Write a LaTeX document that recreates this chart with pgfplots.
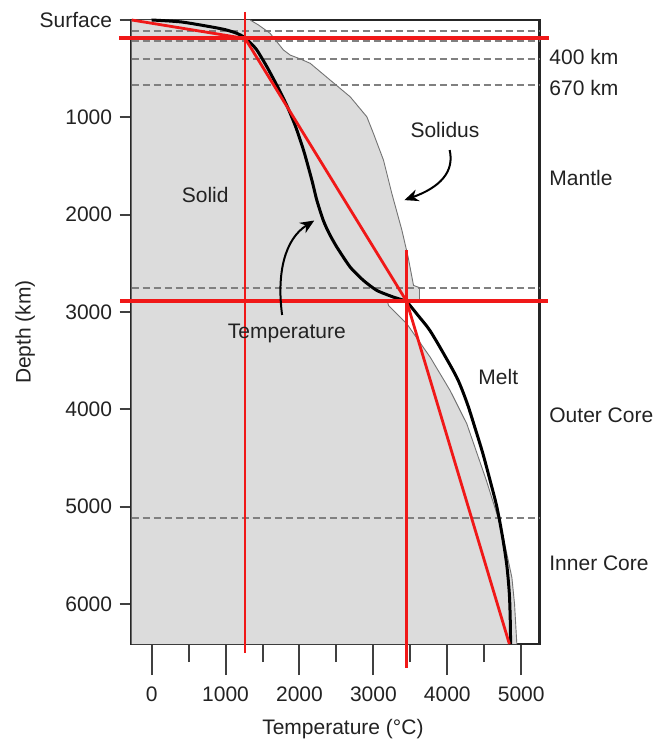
\documentclass[border=0pt]{standalone}
\usepackage{fontspec}
\setmainfont{Liberation Sans}
\usepackage{pgfplots}
\pgfplotsset{compat=1.18}
\usetikzlibrary{arrows.meta}

\definecolor{solidgray}{HTML}{DCDCDC}
\definecolor{dashgray}{HTML}{808080}
\definecolor{txt}{HTML}{222222}
\definecolor{geored}{HTML}{F01818}

\begin{document}
\begin{tikzpicture}[font=\fontsize{10.5}{12.5}\selectfont, text=txt]
\begin{axis}[
  scale only axis, width=203.8pt, height=312pt,
  xmin=-270, xmax=5245, ymin=0, ymax=6410, y dir=reverse,
  clip=false,
  axis line style={black!85, line width=1.2pt},
  tick align=outside,
  xtick pos=bottom, ytick pos=left,
  xtick={0,1000,2000,3000,4000,5000},
  xticklabels={0,1000,2000,3000,4000,5000},
  minor xtick={500,1500,2500,3500,4500},
  ytick={0,1000,2000,3000,4000,5000,6000},
  yticklabels={Surface,1000,2000,3000,4000,5000,6000},
  xtick style={/pgfplots/major tick length=15.5pt, /pgfplots/minor tick length=9pt, line width=1pt, black!75},
  ytick style={/pgfplots/major tick length=6pt, line width=1pt, black!75},
  xticklabel style={text=txt, yshift=-13.5pt},
  yticklabel style={text=txt, xshift=-2pt},
  xlabel={Temperature (°C)},
  ylabel={Depth (km)},
  xlabel style={at={(axis description cs:0.5,0)}, anchor=center, inner sep=0pt, yshift=-42.3pt, xshift=3.7pt},
  ylabel style={at={(axis description cs:0,0.5)}, anchor=center, yshift=53.3pt},
]

% solid region, bounded on the right by the solidus
\addplot[fill=solidgray, draw=none] coordinates {
  (-270,0) (1333,0) (1445,51) (1603,137) (1783,308) (1874,360) (2010,400)
  (2145,445) (2415,617) (2686,789) (2912,995) (3001,1166) (3137,1440)
  (3250,1783) (3386,2160) (3470,2435) (3543,2726) (3624,2750) (3624,2890)
  (3190,2890) (3205,2932) (3453,3121) (3769,3464) (4039,3807) (4265,4150)
  (4530,4733) (4690,5120) (4755,5300) (4810,5500) (4874,5727) (4910,6000)
  (4941,6410) (-270,6410)
} -- cycle;

% boundary depths
\foreach \d in {110,220,400,670,2750,5120} {
  \edef\temp{\noexpand\addplot[dashgray, line width=1pt, dash pattern=on 3.5pt off 2pt] coordinates {(-270,\d) (5245,\d)};}
  \temp
}

% solidus curve, mantle and core
\addplot[black!55, line width=0.45pt] coordinates {
  (1333,0) (1445,51) (1603,137) (1783,308) (1874,360) (2010,400)
  (2145,445) (2415,617) (2686,789) (2912,995) (3001,1166) (3137,1440)
  (3250,1783) (3386,2160) (3470,2435) (3543,2726) (3624,2750) (3624,2890)
};
\addplot[black!55, line width=0.45pt] coordinates {
  (3190,2890) (3205,2932) (3453,3121) (3769,3464) (4039,3807) (4265,4150)
  (4530,4733) (4690,5120) (4755,5300) (4810,5500) (4874,5727) (4910,6000)
  (4941,6410)
};

% temperature profile: mantle, then core
\addplot[black, line width=1.5pt, line join=round, smooth, tension=0.4] coordinates {
  (0,0) (400,20) (792,69) (1000,100) (1153,137) (1242,171) (1270,190)
  (1330,230) (1423,308) (1559,480) (1700,680) (1830,880) (1950,1100)
  (2060,1350) (2168,1646) (2235,1852) (2322,2058) (2400,2190) (2505,2332)
  (2686,2538) (2865,2675) (3047,2778) (3270,2846) (3380,2872) (3450,2890)
};
\addplot[black, line width=1.5pt, line join=round, smooth, tension=0.5] coordinates {
  (3450,2890) (3610,3040) (3765,3190) (3960,3440) (4140,3690) (4270,3940)
  (4375,4190) (4480,4450) (4580,4733) (4670,5000) (4745,5300) (4805,5600)
  (4840,5900) (4853,6200) (4856,6410)
};

% adiabat segments and reference lines
\addplot[geored, line width=1.4pt] coordinates {(-270,0) (1265,190) (3450,2890) (4840,6410)};
\addplot[geored, line width=2pt] coordinates {(-438,190) (5376,190)};
\addplot[geored, line width=2pt] coordinates {(-426,2890) (5362,2890)};
\addplot[geored, line width=1.3pt] coordinates {(1265,-84) (1265,6500)};
\addplot[geored, line width=1.3pt] coordinates {(3450,2363) (3450,6654)};

% annotations
\node at (axis cs:724,1798) {Solid};
\node at (axis cs:3969,1130) {Solidus};
\node at (axis cs:1829,3218) {Temperature};
\node at (axis cs:4690,3663) {Melt};
\draw[black, line width=1pt, -{Stealth[length=7pt,width=6pt]}]
  (axis cs:4032,1336) .. controls (axis cs:4100,1560) and (axis cs:3900,1720) .. (axis cs:3420,1850);
\draw[black, line width=1pt, -{Stealth[length=7pt,width=6pt]}]
  (axis cs:1765,3030) .. controls (axis cs:1690,2600) and (axis cs:1800,2250) .. (axis cs:2200,2060);

% layer names on the right
\begin{scope}[every node/.style={anchor=west, inner sep=0pt, xshift=4.85pt}]
\node at (axis cs:5245,383) {400 km};
\node at (axis cs:5245,701) {670 km};
\node at (axis cs:5245,1625) {Mantle};
\node at (axis cs:5245,4056) {Outer Core};
\node at (axis cs:5245,5576) {Inner Core};
\end{scope}
\end{axis}
\path (current axis.south west) ++(-65.85pt,-49pt) rectangle ++(329pt,371pt);
\end{tikzpicture}
\end{document}
